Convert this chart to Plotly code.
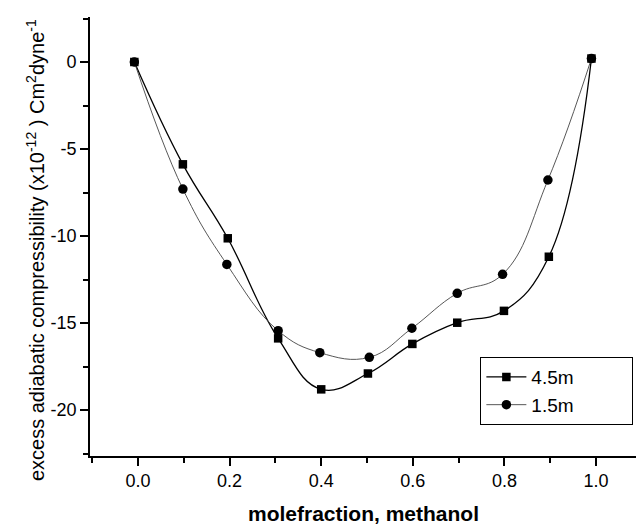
import plotly.graph_objects as go

# data
x_45 = [-0.008, 0.098, 0.196, 0.306, 0.400, 0.502, 0.599, 0.697, 0.799, 0.897, 0.990]
y_45 = [0.0, -5.88, -10.13, -15.88, -18.81, -17.90, -16.20, -14.98, -14.30, -11.19, 0.20]
x_15 = [-0.008, 0.098, 0.194, 0.306, 0.397, 0.505, 0.598, 0.697, 0.796, 0.895, 0.990]
y_15 = [0.0, -7.30, -11.63, -15.44, -16.70, -16.97, -15.30, -13.29, -12.20, -6.78, 0.20]

series_names = ["4.5m", "1.5m"]

x_tickvals = [0.0, 0.2, 0.4, 0.6, 0.8, 1.0]
x_ticktext = ["0.0", "0.2", "0.4", "0.6", "0.8", "1.0"]
y_tickvals = [0, -5, -10, -15, -20]
y_ticktext = ["0", "-5", "-10", "-15", "-20"]

FONT = "Liberation Sans, Arial, sans-serif"
PAD = "&nbsp;" * 10

fig = go.Figure()
fig.add_trace(go.Scatter(
    x=x_45, y=y_45, name=series_names[0] + PAD, mode="lines+markers",
    line=dict(color="black", width=1.3, shape="spline", smoothing=1.2),
    marker=dict(symbol="square", size=8.5, color="black"),
))
fig.add_trace(go.Scatter(
    x=x_15, y=y_15, name=series_names[1] + PAD, mode="lines+markers",
    line=dict(color="#444444", width=0.9, shape="spline", smoothing=1.2),
    marker=dict(symbol="circle", size=9.5, color="black"),
))

axis_common = dict(
    showline=True, linecolor="black", linewidth=1.6, mirror=False,
    showgrid=False, zeroline=False,
    ticks="outside", tickcolor="black", tickwidth=1.5, ticklen=8,
    tickfont=dict(family=FONT, size=18, color="black"),
)

fig.update_xaxes(
    range=[-0.1048, 1.0873], tickvals=x_tickvals, ticktext=x_ticktext,
    minor=dict(dtick=0.1, tick0=0, ticks="outside", ticklen=5, tickcolor="black", tickwidth=1.5),
    **axis_common,
)
fig.update_yaxes(
    range=[-22.64, 2.586], tickvals=y_tickvals, ticktext=y_ticktext,
    minor=dict(dtick=2.5, tick0=0, ticks="outside", ticklen=5, tickcolor="black", tickwidth=1.5),
    **axis_common,
)

fig.add_annotation(
    text="molefraction, methanol", xref="paper", yref="paper",
    x=0.5, y=-0.132, xanchor="center", yanchor="middle", showarrow=False,
    font=dict(family=FONT, size=21, color="black", weight="bold"),
)
fig.add_annotation(
    text="excess adiabatic compressibility (x10<sup>-12</sup> ) Cm<sup>2</sup>dyne<sup>-1</sup>",
    xref="paper", yref="paper", x=-0.1, y=0.47, xanchor="center", yanchor="middle",
    textangle=-90, showarrow=False,
    font=dict(family=FONT, size=20, color="black"),
)

fig.update_layout(
    width=636, height=524,
    margin=dict(l=90, r=0, t=17, b=68),
    paper_bgcolor="white", plot_bgcolor="white",
    showlegend=True,
    legend=dict(
        x=0.7146, y=0.2257, xanchor="left", yanchor="top",
        bordercolor="black", borderwidth=1.2, bgcolor="white",
        font=dict(family=FONT, size=19, color="black"),
        itemwidth=40, tracegroupgap=0,
    ),
)

fig.write_html("out.html")
